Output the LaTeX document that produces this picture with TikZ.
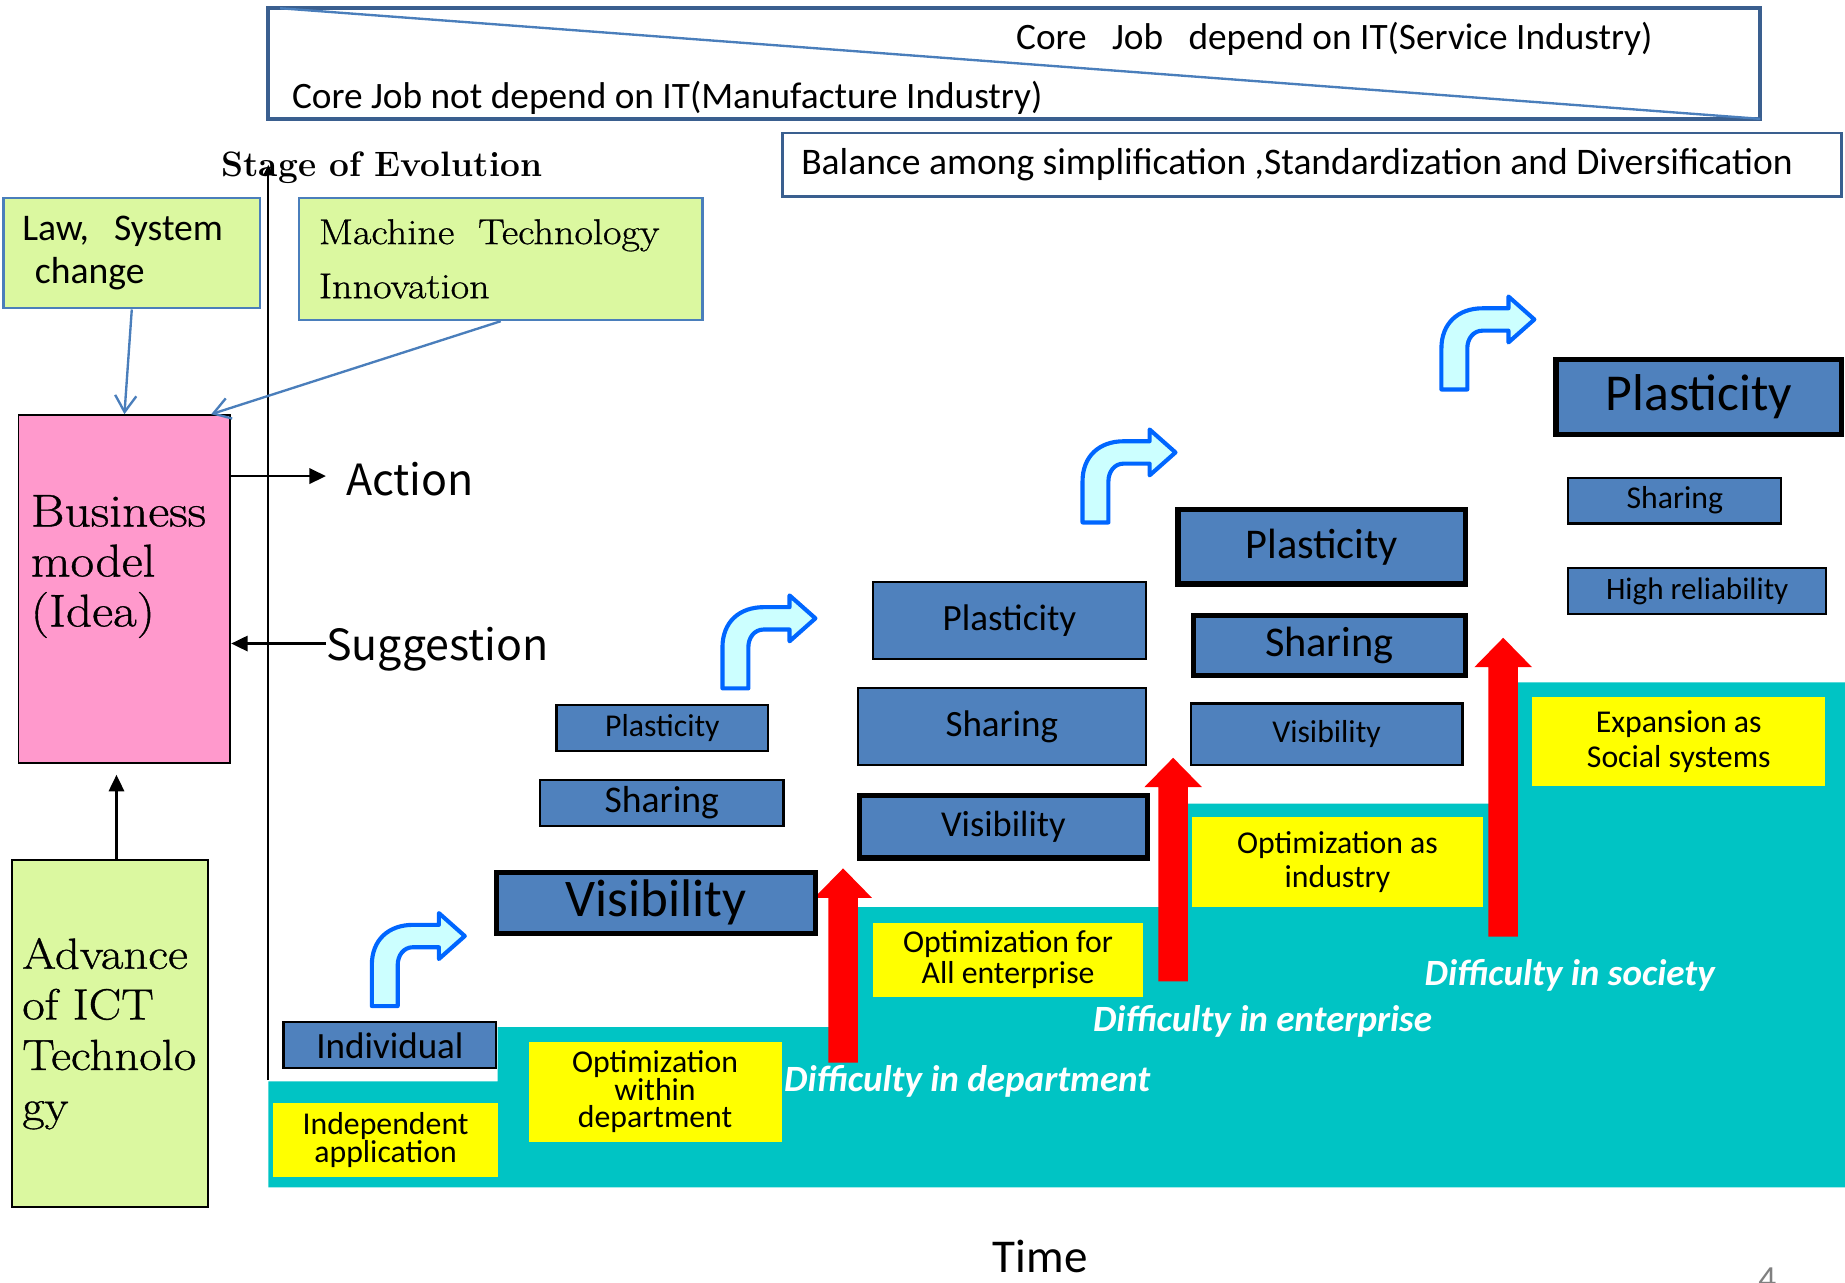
\documentclass[tikz,border=0pt]{standalone}
\usepackage{fontspec}
\usepackage{tikz}
\usetikzlibrary{arrows.meta}

\newfontfamily\calib{Carlito}
\newfontfamily\gothic{Noto Sans CJK JP}
\newfontfamily\school{Latin Modern Roman}[FakeStretch=1.12,FakeBold=0.8]
\newcommand{\txtsize}[2]{\fontsize{#1pt}{#2pt}\selectfont}

\definecolor{boxblue}{HTML}{4F81BD}
\definecolor{goalyellow}{HTML}{FFFF00}
\definecolor{stageteal}{HTML}{00C4C4}
\definecolor{lawgreen}{HTML}{DBF8A0}
\definecolor{ideapink}{HTML}{FF99CC}
\definecolor{linkblue}{HTML}{4A7EBB}
\definecolor{framenavy}{HTML}{3A5F8F}
\definecolor{turnfill}{HTML}{CCFFFF}
\definecolor{turnedge}{HTML}{0066FF}

\tikzset{calib/.style={font=\calib\txtsize{#1}{#1}}}
\tikzset{turnarrow/.pic={
	\draw[draw=turnedge,fill=turnfill,line width=3.5pt,line join=round]
	(0,0) -- (0,-35) .. controls (0,-56) and (14,-69) .. (35,-69)
	-- (57,-69) -- (57,-79) -- (79,-59.5) -- (57,-40) -- (57,-50)
	-- (35,-50) .. controls (27,-50) and (22,-43) .. (22,-35) -- (22,0) -- cycle;
}}
\newcommand{\risearrow}[3]{\fill[red] ({#1-12.5},#2) -- ({#1-12.5},{#3+25})
	-- ({#1-24.5},{#3+25}) -- (#1,#3) -- ({#1+24.5},{#3+25})
	-- ({#1+12.5},{#3+25}) -- ({#1+12.5},#2) -- cycle;}

\begin{document}
\begin{tikzpicture}[x=1pt,y=-1pt]
	\tikzstyle{frame}=[draw=framenavy,line width=3.5pt,anchor=north west,outer sep=0pt,inner sep=0pt]
	\tikzstyle{toptext}=[inner sep=0pt,calib=31.7]
	\tikzstyle{sidebox}=[fill=lawgreen,draw=linkblue,line width=2pt,anchor=north west,align=left,inner ysep=0pt]
	\tikzstyle{stagebox}=[draw=black,fill=boxblue,line width=1.8pt,anchor=north west,inner sep=0pt,align=center]
	\tikzstyle{keybox}=[stagebox,line width=4.5pt]
	\tikzstyle{goalbox}=[fill=goalyellow,anchor=north west,inner sep=0pt,align=center]
	\tikzstyle{feedarrow}=[draw=linkblue,line width=2pt,-{Straight Barb[length=14pt,width=18pt]}]
	\tikzstyle{cuearrow}=[line width=2pt,-{Triangle[length=14pt,width=13pt]}]
	\tikzstyle{cue}=[inner sep=0pt,font=\gothic\txtsize{36.5}{36.5}]
	\tikzstyle{hardship}=[text=white,inner sep=0pt,font=\calib\bfseries\itshape\txtsize{31.5}{31.5}]

	\useasboundingbox (0,0) rectangle (1568,1090);

	%% Industry band
	\node[frame,minimum width=1268pt,minimum height=94pt] (industry) at (228,7) {};
	\draw[linkblue,line width=2pt] ([xshift=10pt]industry.north west) -- (industry.south east);
	\node[toptext,anchor=base] (service) at (1134,42) {Core\ \ \ Job\ \ \ depend on IT(Service Industry)};
	\node[toptext,anchor=base west] (manufact) at (248,92) {Core Job not depend on IT(Manufacture Industry)};
	\node[frame,line width=1.8pt,minimum width=900pt,minimum height=54pt,calib=31.9] (balance) at (665,113)
		{\makebox[868pt][l]{Balance among simplification ,Standardization and Diversification}};

	%% Axis and drivers
	\node[anchor=base west,inner sep=0pt,font=\bfseries\txtsize{30}{30}] (stage) at (188,150) {Stage of Evolution};
	\coordinate (axisfoot) at (228,918);
	\coordinate (axistop) at (228,140);
	\draw[line width=2pt,-{Triangle[length=9pt,width=8pt]}] (axisfoot) -- (axistop);

	\node[sidebox,minimum width=218pt,minimum height=94pt,text width=186pt,inner xsep=16pt,
		font=\calib\txtsize{32}{37}] (law) at (2,167) {\mbox{Law,\ \ System}\\\mbox{\ change}};
	\node[sidebox,minimum width=343pt,minimum height=104pt,text width=309pt,inner xsep=17pt,
		font=\school\txtsize{30.5}{46}] (machine) at (253,167) {\mbox{Machine\ \ Technology}\\Innovation};
	\node[fill=ideapink,draw=black,line width=1.5pt,anchor=north west,minimum width=180pt,
		minimum height=296pt,inner xsep=10.5pt,inner ysep=0pt,font=\school\txtsize{39}{42.5}] (idea) at (15,352)
		{\parbox[c][160pt][t]{159pt}{Business\\model\\(Idea)}};
	\node[sidebox,draw=black,minimum width=167pt,minimum height=295pt,text width=149pt,inner xsep=9pt,
		font=\school\txtsize{37}{43}] (ict) at (9,730) {Advance\\of ICT\\\mbox{Technolo}\\gy};

	\draw[feedarrow] (law.south) -- (idea.north);
	\draw[feedarrow] (machine.south) -- ([xshift=-17pt]idea.north east);

	\node[cue,anchor=base west] (action) at (294,421.5) {Action};
	\node[cue,anchor=base west] (suggest) at (277,561) {Suggestion};
	\coordinate (actionfoot) at ([yshift=3pt]action.west);
	\coordinate (suggestfoot) at ([yshift=4.5pt]suggest.west);
	\draw[cuearrow] (idea.east |- actionfoot) -- ([xshift=-17pt]actionfoot);
	\draw[cuearrow] (suggestfoot) -- (idea.east |- suggestfoot);
	\coordinate (ictnorth) at (99,730);
	\draw[cuearrow,shorten >=9pt] (ictnorth) -- (ictnorth |- idea.south);

	%% Staircase
	\fill[stageteal] (228,919) -- (423,919) -- (423,873) -- (729,873) -- (729,771) -- (1009,771)
		-- (1009,683) -- (1290,683) -- (1290,580) -- (1568,580) -- (1568,1009) -- (228,1009) -- cycle;

	\node[goalbox,minimum width=191pt,minimum height=63pt,font=\calib\txtsize{27}{22}] (indep) at (232,937) {Independent\\application};
	\node[goalbox,minimum width=215pt,minimum height=85pt,font=\calib\txtsize{27}{23}] (optdept) at (449,885) {Optimization\\within\\department};
	\node[goalbox,minimum width=229pt,minimum height=63pt,font=\calib\txtsize{27}{26}] (optall) at (742,784) {Optimization for\\All enterprise};
	\node[goalbox,minimum width=247pt,minimum height=77pt,font=\calib\txtsize{27}{29}] (optind) at (1013,694) {Optimization as\\industry};
	\node[goalbox,minimum width=249pt,minimum height=76pt,font=\calib\txtsize{27}{30}] (expand) at (1302,592) {Expansion as\\Social systems};

	\risearrow{716.5}{903}{738}
	\risearrow{997}{834}{644}
	\risearrow{1277.5}{796}{542}

	%% Stage 1
	\node[stagebox,minimum width=181pt,minimum height=39pt,calib=31.5] (indiv) at (240,868) {Individual};
	\pic at (316,855) {turnarrow};

	%% Stage 2
	\node[stagebox,minimum width=180pt,minimum height=39pt,calib=27] (plast2) at (472,598) {Plasticity};
	\node[stagebox,minimum width=207pt,minimum height=39pt,calib=32] (share2) at (458,662) {Sharing};
	\node[keybox,minimum width=271pt,minimum height=52pt,calib=45] (vis2) at (420,739) {Visibility};
	\pic at (614,585) {turnarrow};

	%% Stage 3
	\node[stagebox,minimum width=232pt,minimum height=65pt,calib=31.5] (plast3) at (741,494) {Plasticity};
	\node[stagebox,minimum width=245pt,minimum height=65pt,calib=31.5] (share3) at (728,584) {Sharing};
	\node[keybox,minimum width=245pt,minimum height=53pt,calib=31] (vis3) at (728,674) {Visibility};
	\pic at (920,444) {turnarrow};

	%% Stage 4
	\node[keybox,minimum width=244pt,minimum height=63pt,calib=36] (plast4) at (999,431) {Plasticity};
	\node[keybox,minimum width=231pt,minimum height=51pt,calib=36] (share4) at (1012,521) {Sharing};
	\node[stagebox,minimum width=231pt,minimum height=52pt,calib=27] (vis4) at (1011,597) {Visibility};
	\pic at (1225,331) {turnarrow};

	%% Stage 5
	\node[keybox,minimum width=243pt,minimum height=64pt,calib=44] (plast5) at (1320,303) {Plasticity};
	\node[stagebox,minimum width=181pt,minimum height=39pt,calib=27] (share5) at (1332,405) {Sharing};
	\node[stagebox,minimum width=219pt,minimum height=39pt,calib=26.5] (reliab) at (1332,482) {High reliability};

	%% Difficulties
	\node[hardship] (harddept) at (822,919) {Difficulty in department};
	\node[hardship] (hardent) at (1073,868) {Difficulty in enterprise};
	\node[hardship] (hardsoc) at (1334,829) {Difficulty in society};

	\node[inner sep=0pt,calib=40] (time) at (884,1068) {Time};
	\node[inner sep=0pt,anchor=north,text=gray,calib=30] (pageno) at (1502,1077) {4};
\end{tikzpicture}
\end{document}
